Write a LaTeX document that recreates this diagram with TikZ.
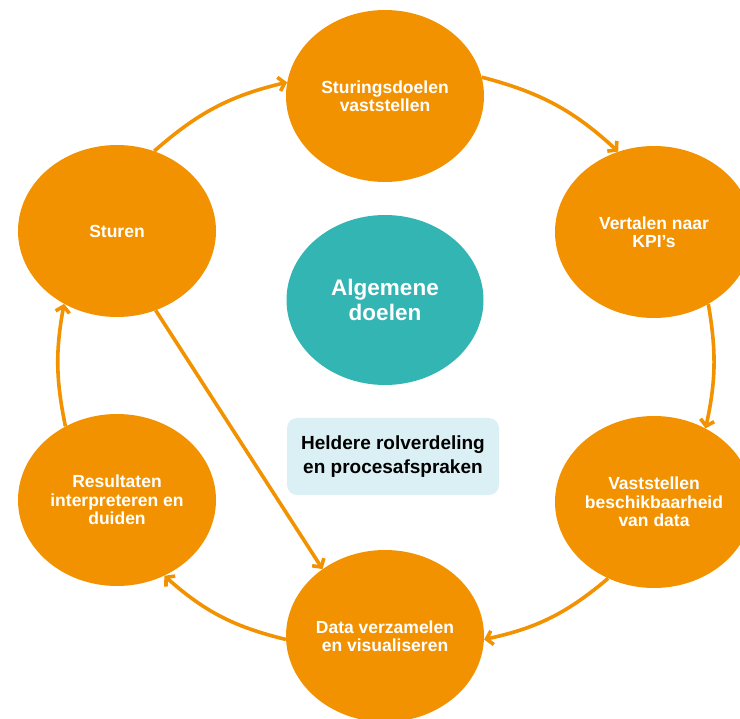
\documentclass[tikz,border=0pt]{standalone}
\usepackage{fontspec}
\setmainfont{Liberation Sans}
\usetikzlibrary{shapes.geometric,arrows.meta}
\definecolor{orng}{RGB}{243,146,0}
\definecolor{teal2}{RGB}{51,181,179}
\definecolor{boxblue}{RGB}{218,240,245}
\tikzset{
  stepnode/.style={ellipse, fill=orng, inner sep=0pt, minimum width=198pt, minimum height=172pt,
    text=white, font=\fontsize{17.5}{18.5}\selectfont\bfseries, align=center},
  centernode/.style={ellipse, fill=teal2, inner sep=0pt, minimum width=197pt, minimum height=170pt,
    text=white, font=\fontsize{22.5}{24.5}\selectfont\bfseries, align=center},
  infobox/.style={rectangle, rounded corners=10pt, fill=boxblue, inner sep=0pt,
    minimum width=212pt, minimum height=77pt, text=black,
    font=\fontsize{19}{24.5}\selectfont\bfseries, align=center},
  flow/.style={draw=orng, line width=3.6pt, -{Straight Barb[length=6pt,width=14pt]}}
}
\begin{document}
\begin{tikzpicture}[x=1pt,y=-1pt]
\useasboundingbox (0,0) rectangle (740,719);
\clip (0,0) rectangle (740,719);
\node[stepnode] (doel) at (385,96) {Sturingsdoelen\\vaststellen};
\node[stepnode] (kpi) at (654,232) {Vertalen naar\\KPI’s};
\node[stepnode] (stur) at (117,231) {Sturen};
\node[centernode] (alg) at (385,300) {Algemene\\doelen};
\node[stepnode] (res) at (117,500) {Resultaten\\interpreteren en\\duiden};
\node[stepnode] (vast) at (654,502) {Vaststellen\\beschikbaarheid\\van data};
\node[stepnode] (data) at (385,636) {Data verzamelen\\en visualiseren};
\node[infobox] (box) at (393,456.5) {Heldere rolverdeling\\en procesafspraken};

\draw[flow] (stur.65) to[bend left=14] (doel.172);
\draw[flow] (doel.11) to[bend left=14] (kpi.114);
\draw[flow] (kpi.-53) to[bend left=11] (vast.55);
\draw[flow] (vast.239) to[bend left=14] (data.-2);
\draw[flow] (data.182) to[bend left=14] (res.-58);
\draw[flow] (res.125) to[bend left=11] (stur.234);
\draw[flow] (stur.-64) -- (data.133);
\end{tikzpicture}
\end{document}
